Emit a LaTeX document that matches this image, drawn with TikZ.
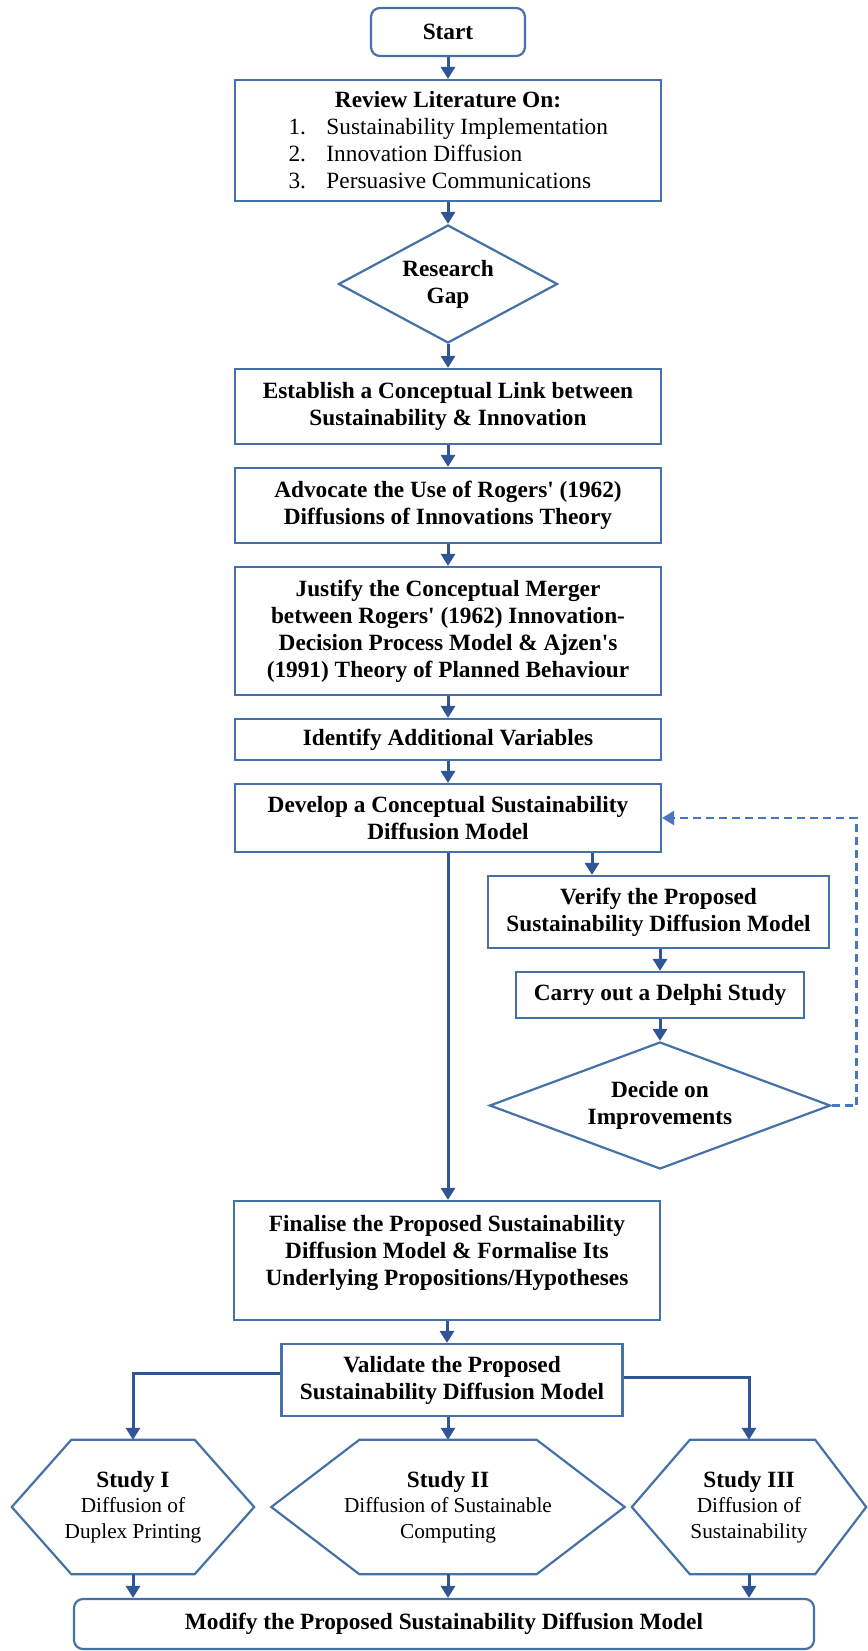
\documentclass[tikz,border=0pt]{standalone}
\usepackage{fontspec}
\setmainfont{Liberation Serif}
\usetikzlibrary{shapes.geometric,arrows.meta,calc}

\definecolor{edgeblue}{RGB}{68,114,168}
\definecolor{linkblue}{RGB}{47,85,151}
\definecolor{dashblue}{RGB}{72,118,196}

% one numbered entry of the literature list: number column, then the topic
\newcommand{\lititem}[2]{\makebox[319pt][l]{\mdseries\makebox[38pt][l]{#1}#2}}
% regular-weight line inside a hexagon
\newcommand{\hexline}[1]{{\mdseries\fontsize{21.3}{25.5}\selectfont #1}}
% straight apostrophe
\newcommand{\apos}{\textquotesingle}

\begin{document}
\begin{tikzpicture}[x=1pt,y=-1pt,
  every node/.style={font=\fontsize{23.3}{27}\selectfont\bfseries, text=black, inner sep=0pt},
  stepbox/.style={draw=edgeblue, line width=2.2pt, rectangle, align=center, minimum width=426},
  termbox/.style={draw=edgeblue, line width=2.2pt, rectangle, rounded corners=9pt, align=center},
  decision/.style={draw=edgeblue, line width=2.2pt, diamond, align=center},
  hexslot/.style={rectangle, align=center, font=\fontsize{23.3}{25.5}\selectfont\bfseries},
  hexedge/.style={draw=edgeblue, line width=2.2pt, line join=miter},
  link/.style={draw=linkblue, line width=3pt, -{Triangle[width=14pt,length=12pt]}},
  feedback/.style={draw=dashblue, line width=2.4pt, dash pattern=on 8pt off 5pt, -{Triangle[width=14pt,length=12pt]}}
]
\useasboundingbox (0,0) rectangle (867,1651);

% main column
\node[termbox, minimum width=154, minimum height=48] (start) at (448,32) {Start};
\node[stepbox, minimum height=121] (review) at (448,140.5)
  {Review Literature On:\\
   \lititem{1.}{Sustainability Implementation}\\
   \lititem{2.}{Innovation Diffusion}\\
   \lititem{3.}{Persuasive Communications}};
\node[decision, aspect=1.856, minimum width=219, minimum height=118] (gap) at (448,284) {Research\\Gap};
\node[stepbox, minimum height=75] (establish) at (448,406.5)
  {Establish a Conceptual Link between\\Sustainability \& Innovation};
\node[stepbox, minimum height=75] (advocate) at (448,505.5)
  {Advocate the Use of Rogers\apos{} (1962)\\Diffusions of Innovations Theory};
\node[stepbox, minimum height=128] (justify) at (448,631)
  {Justify the Conceptual Merger\\between Rogers\apos{} (1962) Innovation-\\Decision Process Model \& Ajzen\apos{}s\\(1991) Theory of Planned Behaviour};
\node[stepbox, minimum height=41] (identify) at (448,739.5) {Identify Additional Variables};
\node[stepbox, minimum height=68] (develop) at (448,818)
  {Develop a Conceptual Sustainability\\Diffusion Model};

% verification loop
\node[stepbox, minimum width=341, minimum height=72] (verify) at (658.5,912)
  {Verify the Proposed\\Sustainability Diffusion Model};
\node[stepbox, minimum width=288, minimum height=46] (carry) at (660,995) {Carry out a Delphi Study};
\node[decision, aspect=2.685, minimum width=341, minimum height=127] (decide) at (660,1105.5)
  {Decide on\\Improvements};

% finalisation and validation
\node[stepbox, minimum height=119] (finalise) at (447,1260.5) {};
\node[align=center] (finalisetext) at ($(finalise.center)+(0,-8)$)
  {Finalise the Proposed Sustainability\\Diffusion Model \& Formalise Its\\Underlying Propositions/Hypotheses};
\node[stepbox, minimum width=341, minimum height=72] (validate) at (452,1380)
  {Validate the Proposed\\Sustainability Diffusion Model};

% the three studies
\node[hexslot, minimum width=242, minimum height=134] (hex1) at (133,1507)
  {Study I\\\hexline{Diffusion of}\\\hexline{Duplex Printing}};
\node[hexslot, minimum width=353, minimum height=134] (hex2) at (448,1507)
  {Study II\\\hexline{Diffusion of Sustainable}\\\hexline{Computing}};
\node[hexslot, minimum width=234, minimum height=134] (hex3) at (749,1507)
  {Study III\\\hexline{Diffusion of}\\\hexline{Sustainability}};
\draw[hexedge] (hex1.west) -- ([xshift=59.5pt]hex1.north west) -- ([xshift=-59.5pt]hex1.north east)
  -- (hex1.east) -- ([xshift=-59.5pt]hex1.south east) -- ([xshift=59.5pt]hex1.south west) -- cycle;
\draw[hexedge] (hex2.west) -- ([xshift=88pt]hex2.north west) -- ([xshift=-88pt]hex2.north east)
  -- (hex2.east) -- ([xshift=-88pt]hex2.south east) -- ([xshift=88pt]hex2.south west) -- cycle;
\draw[hexedge] (hex3.west) -- ([xshift=58pt]hex3.north west) -- ([xshift=-51pt]hex3.north east)
  -- (hex3.east) -- ([xshift=-51pt]hex3.south east) -- ([xshift=58pt]hex3.south west) -- cycle;

\node[termbox, minimum width=740, minimum height=50] (modify) at (444,1624)
  {Modify the Proposed Sustainability Diffusion Model};

% connectors
\draw[link] (start.south) -- (review.north);
\draw[link] (review.south) -- (gap.north);
\draw[link] (gap.south) -- (establish.north);
\draw[link] (establish.south) -- (advocate.north);
\draw[link] (advocate.south) -- (justify.north);
\draw[link] (justify.south) -- (identify.north);
\draw[link] (identify.south) -- (develop.north);
\draw[link] ($(develop.south)+(144,0)$) -- ($(develop.south |- verify.north)+(144,0)$);
\draw[link] (verify.south -| carry.north) -- (carry.north);
\draw[link] (carry.south) -- (decide.north);
\draw[feedback] (decide.east) -- ++(25,0) |- (develop.east);
\draw[link] (develop.south) -- (develop.south |- finalise.north);
\draw[link] (finalise.south) -- (finalise.south |- validate.north);
\draw[link] ([yshift=7pt]validate.west) -| (hex1.north);
\draw[link] (validate.south -| hex2.north) -- (hex2.north);
\draw[link] ([yshift=3pt]validate.east) -| (hex3.north);
\draw[link] (hex1.south) -- (hex1.south |- modify.north);
\draw[link] (hex2.south) -- (hex2.south |- modify.north);
\draw[link] (hex3.south) -- (hex3.south |- modify.north);
\end{tikzpicture}
\end{document}
